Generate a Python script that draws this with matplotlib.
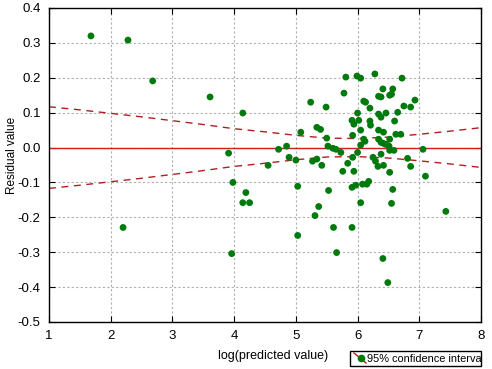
import matplotlib
matplotlib.use("Agg")
import matplotlib.pyplot as plt
from matplotlib.patches import Rectangle
from matplotlib.lines import Line2D
from matplotlib.transforms import Bbox, TransformedBbox

# Residual points: log(predicted value) vs residual
x_pred = [1.68, 2.28, 2.68, 3.61, 4.14, 3.91, 3.98, 3.96, 2.20, 4.19,
          4.14, 4.25, 4.55, 4.72, 4.85, 4.89, 5.00, 5.03, 5.03, 5.08,
          5.24, 5.27, 5.34, 5.31, 5.34, 5.40, 5.37, 5.42, 5.49, 5.50,
          5.52, 5.60, 5.65, 5.53, 5.61, 5.66, 5.73, 5.76, 5.78, 5.81,
          5.84, 5.91, 5.94, 5.92, 5.92, 5.94, 5.91, 5.97, 5.91, 5.99,
          6.05, 6.00, 6.00, 6.02, 6.05, 6.05, 6.05, 6.10, 6.13, 6.10,
          6.12, 6.08, 6.15, 6.18, 6.20, 6.20, 6.21, 6.25, 6.29, 6.33,
          6.28, 6.34, 6.38, 6.34, 6.38, 6.46, 6.34, 6.34, 6.38, 6.42,
          6.46, 6.51, 6.52, 6.41, 6.57, 6.52, 6.55, 6.42, 6.42, 6.41,
          6.49, 6.52, 6.59, 6.52, 6.57, 6.55, 6.60, 6.62, 6.70, 6.65,
          6.72, 6.75, 6.86, 6.93, 6.81, 6.86, 7.06, 7.10, 7.43, 6.38]
residual = [0.320, 0.308, 0.191, 0.145, 0.099, -0.016, -0.100, -0.304, -0.229, -0.129,
            -0.158, -0.158, -0.051, -0.005, 0.004, -0.028, -0.036, -0.111, -0.252, 0.044,
            0.130, -0.039, -0.033, -0.195, 0.058, 0.052, -0.169, -0.051, 0.116, 0.027,
            0.004, -0.002, -0.005, -0.123, -0.229, -0.301, -0.014, -0.068, 0.156, 0.202,
            -0.045, 0.078, 0.067, 0.035, -0.028, -0.068, -0.114, -0.108, -0.229, 0.205,
            0.199, 0.099, -0.014, 0.078, 0.050, 0.007, -0.158, 0.133, 0.130, 0.024,
            0.018, -0.105, -0.105, -0.097, 0.113, 0.076, 0.064, -0.028, -0.039, -0.054,
            0.211, 0.147, 0.145, 0.096, 0.087, 0.099, 0.050, 0.024, 0.015, 0.012,
            0.009, 0.004, 0.024, 0.168, 0.168, 0.150, 0.153, 0.044, -0.051, -0.318,
            -0.387, -0.008, -0.008, -0.071, -0.120, -0.160, 0.076, 0.038, 0.038, 0.101,
            0.199, 0.119, 0.116, 0.136, -0.031, -0.054, -0.005, -0.082, -0.183, -0.019]

# 95% confidence band (half-width), read at sampled x
band_x = [1.0, 1.5, 2.0, 2.5, 3.0, 3.5, 4.0, 4.5, 5.0, 5.5, 6.0, 6.5, 7.0, 7.5, 8.0]
band_hw = [0.117, 0.108, 0.098, 0.088, 0.077, 0.066, 0.054, 0.045, 0.035, 0.027,
           0.026, 0.030, 0.038, 0.047, 0.057]

xticks = [1, 2, 3, 4, 5, 6, 7, 8]
yticks = [0.4, 0.3, 0.2, 0.1, 0.0, -0.1, -0.2, -0.3, -0.4, -0.5]

plt.rcParams['font.family'] = ['Liberation Sans', 'DejaVu Sans']

fig = plt.figure(figsize=(4.92, 3.69), dpi=100)
ax = fig.add_axes([49/492, 1-322/369, (481-49)/492, (322-8)/369])

ax.set_xlim(1, 8)
ax.set_ylim(-0.5, 0.4)
ax.set_xticks(xticks)
ax.set_yticks(yticks)
ax.set_xticklabels([str(t) for t in xticks])
ax.set_yticklabels([f"{t:.1f}" for t in yticks])
ax.grid(True, color='#b0b0b0', linestyle=(0, (2, 2)), linewidth=0.8)
ax.set_axisbelow(True)
ax.tick_params(direction='in', length=4, labelsize=9.5, top=True, right=True,
               labeltop=False, labelright=False, color='black', pad=6)
for s in ax.spines.values():
    s.set_linewidth(1.0)
    s.set_color('black')

ax.axhline(0.0, color='#cc2020', linewidth=1.0, zorder=2)
ax.plot(band_x, band_hw, color='#b02020', linestyle=(0, (5, 4)), linewidth=1.0, zorder=2)
ax.plot(band_x, [-v for v in band_hw], color='#b02020', linestyle=(0, (5, 4)), linewidth=1.0, zorder=2)
ax.scatter(x_pred, residual, s=24, color='#007a0c', edgecolors='none', zorder=3)

fig.text(12/492, 1-155/369, 'Residual value', rotation=90, ha='center', va='center', fontsize=8.5)
fig.text(273/492, 1-356/369, 'log(predicted value)', ha='center', va='center', fontsize=9)

# legend box
box_x0, box_y0, box_x1, box_y1 = 350, 351, 481, 366
rect = Rectangle((box_x0/492, 1-box_y1/369), (box_x1-box_x0)/492, (box_y1-box_y0)/369,
                 transform=fig.transFigure, fill=False, edgecolor='black', linewidth=1.0)
fig.patches.append(rect)
fig.lines.append(Line2D([354/492, 366/492], [1-353/369, 1-363/369], transform=fig.transFigure,
                        color='#b02020', linewidth=1.0))
fig.lines.append(Line2D([361/492], [1-358/369], transform=fig.transFigure, marker='o',
                        markersize=4.5, color='#007a0c', linestyle='none'))
t = fig.text(367/492, 1-358.5/369, '95% confidence interval', ha='left', va='center', fontsize=7.9)
clip = TransformedBbox(Bbox([[box_x0/492, 1-box_y1/369], [box_x1/492, 1-box_y0/369]]), fig.transFigure)
t.set_clip_box(clip)
t.set_clip_on(True)

fig.savefig('out.png', dpi=100, facecolor='white')
